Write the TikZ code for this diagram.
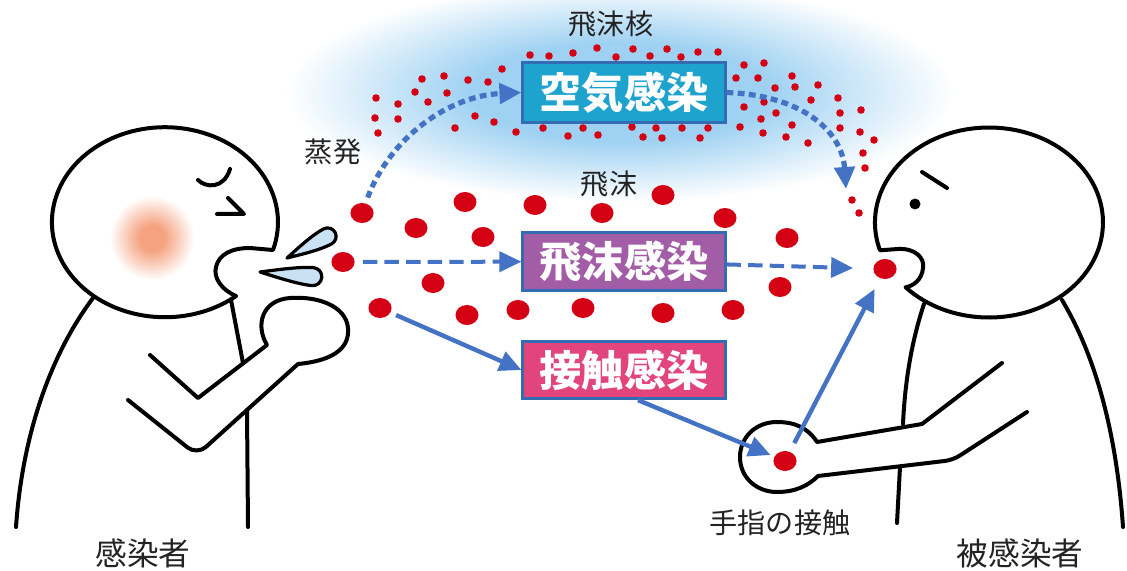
\documentclass[tikz,border=0pt]{standalone}
\usepackage{fontspec}
\setmainfont{Noto Sans CJK JP}
\usetikzlibrary{arrows.meta, positioning, shapes.geometric}

\definecolor{arrowblue}{RGB}{68,114,196}
\definecolor{dotred}{RGB}{212,0,20}
\definecolor{boxline}{RGB}{52,108,180}
\definecolor{airfill}{RGB}{30,162,206}
\definecolor{dropfill}{RGB}{163,93,166}
\definecolor{touchfill}{RGB}{226,68,124}
\definecolor{haze}{RGB}{158,209,242}
\definecolor{spray}{RGB}{200,226,243}
\definecolor{blush}{RGB}{245,162,128}
\definecolor{ink}{RGB}{35,35,35}

\pgfdeclareradialshading{hazeglow}{\pgfpoint{0bp}{0bp}}{color(0bp)=(haze); color(11bp)=(haze); color(25bp)=(white); color(50bp)=(white)}
\pgfdeclareradialshading{cheek}{\pgfpoint{0bp}{0bp}}{color(0bp)=(blush); color(7bp)=(blush); color(24bp)=(white); color(50bp)=(white)}

\begin{document}
\begin{tikzpicture}[x=0.025cm, y=-0.025cm, >={Triangle[length=5.5mm, width=5mm]},
		body_line/.style={line width=1mm, line cap=round, line join=round},
		infection/.style={draw=boxline, line width=0.75mm, text=white, inner sep=0pt, minimum width=5.05cm, minimum height=1.43cm, font=\fontsize{30}{36}\selectfont\bfseries},
		drop/.style={ellipse, fill=dotred, inner sep=0pt, minimum width=0.58cm, minimum height=0.5cm},
		note/.style={text=ink, font=\fontsize{20}{24}\selectfont},
		who/.style={text=ink, font=\fontsize{22.5}{27}\selectfont},
		route/.style={->, arrowblue, line width=1.1mm},
		air_route/.style={route, line width=1.3mm, dash pattern=on 1.7mm off 1.1mm},
		drop_route/.style={route, line width=1mm, dash pattern=on 3.6mm off 1.8mm}]
		\useasboundingbox (0,0) rectangle (1127,571);
		\shade[shading=hazeglow] (620,92) ellipse (335 and 110);

		\draw[body_line] (93,298) .. controls (48,358) and (22,440) .. (16,527);
		\draw[body_line] (231,300) -- (243,363);
		\draw[body_line] (247,410) -- (248,527);
		\draw[body_line] (150,355) -- (198,398) -- (267,345) .. controls (255,325) and (262,300) .. (290,298) .. controls (318,296) and (346,306) .. (348,328) .. controls (350,350) and (330,361) .. (298,364) [rounded corners=3mm] -- (197,455) -- (128,400);
		\filldraw[body_line, fill=white] (273,250) arc[start angle=17, end angle=-309, x radius=113, y radius=95] .. controls (222,290) and (213,278) .. (216,267) .. controls (219,254) and (232,248) .. (250,248) -- (273,250) -- cycle;
		\shade[shading=cheek] (152,238) circle (44);
		\draw[body_line] (198,180) .. controls (206,188) and (224,189) .. (230,169);
		\draw[body_line] (228,198) -- (244,214) -- (217,214);
		\begin{scope}[shift={(287,258)}, rotate=28]
			\filldraw[body_line, line width=0.8mm, fill=spray] (0,0) .. controls (16,-4) and (33,-8.5) .. (46,-8.5) arc[start angle=-90, end angle=90, radius=8.5] .. controls (33,8.5) and (16,4) .. (0,0) -- cycle;
		\end{scope}
		\begin{scope}[shift={(260,272)}, rotate=-5]
			\filldraw[body_line, line width=0.8mm, fill=spray] (0,0) .. controls (18,-4) and (40,-9) .. (53,-9) arc[start angle=-90, end angle=90, radius=9] .. controls (40,9) and (18,4) .. (0,0) -- cycle;
		\end{scope}

		\draw[body_line] (1062,300) .. controls (1098,360) and (1117,440) .. (1123,527);
		\draw[body_line] (924,304) .. controls (912,340) and (905,380) .. (903,424);
		\draw[body_line] (900,467) -- (897,523);
		\draw[body_line] (1002,363) -- (922,424) -- (817,442) .. controls (808,428) and (795,422) .. (777,422) .. controls (755,422) and (740,438) .. (740,457) .. controls (740,478) and (757,492) .. (777,492) .. controls (795,492) and (808,486) .. (818,476) [rounded corners=2mm] -- (953,460) -- (1027,412);
		\filldraw[body_line, fill=white] (905.6,287.3) arc[start angle=137, end angle=-197, x radius=114, y radius=95] -- (898,249) .. controls (915,248) and (925,258) .. (923,268) .. controls (922,280) and (913,286) .. (905.6,287.3) -- cycle;
		\draw[body_line] (922,172) -- (947,188);
		\fill (915,204) circle (5.5);

		\foreach \x/\y in {530/55, 549/56, 573/53, 597/48, 616/57, 633/49, 650/56, 667/49, 681/57, 698/52, 718/52,
				502/69, 422/79, 444/76, 468/80, 488/82, 415/92, 447/93, 376/98, 398/104, 428/102, 375/118, 398/119, 475/116, 494/122, 378/133, 455/128, 516/132,
				543/128, 568/136, 583/128, 598/135, 632/127, 643/137, 656/128, 662/138, 682/128, 700/138, 708/128, 740/127,
				744/65, 764/63, 736/78, 758/78, 792/76, 775/88, 795/87, 818/85, 744/107, 764/102, 776/113, 761/119, 792/125, 811/100, 838/98, 840/113, 861/110, 840/128, 860/132, 763/133, 786/137, 808/143, 874/140, 863/153, 865/168, 852/200, 859/213}
			\fill[dotred] (\x,\y) circle (3.8);
		\foreach \x/\y in {465/202, 535/205, 602/213, 663/195, 725/218, 416/228, 483/237, 787/238, 433/283, 780/287, 467/315, 518/310, 583/308, 663/313, 733/310}
			\fill[dotred] (\x,\y) ellipse (11.5 and 10);

		\node[infection, fill=airfill, minimum height=1.475cm] (air_box) at (624,92.5) {空気感染};
		\node[infection, fill=dropfill] (droplet_box) at (624,261.5) {飛沫感染};
		\node[infection, fill=touchfill] (contact_box) at (624,370) {接触感染};

		\node[drop] (evap_dot) at (362,213) {};
		\node[drop] (spray_dot) at (343,262) {};
		\node[drop] (contact_dot) at (380,308) {};
		\node[drop] (mouth_dot) at (885,269) {};
		\node[drop] (hand_dot) at (785,461) {};
		\coordinate (air_end) at (846,189);

		\draw[air_route, shorten <=1.5mm] (evap_dot.70) .. controls (390,138) and (448,96) .. (air_box.west);
		\draw[air_route] (air_box.east) .. controls (800,95) and (842,130) .. (air_end);
		\draw[drop_route, shorten <=2mm] (spray_dot) -- (droplet_box);
		\draw[drop_route, shorten >=5mm] (droplet_box) -- (mouth_dot);
		\draw[route, shorten <=1.5mm] (contact_dot) -- (contact_box.west);
		\draw[route, shorten >=1mm] (contact_box.-65) -- (hand_dot);
		\draw[route, shorten <=2.4mm, shorten >=3mm] (hand_dot) -- (mouth_dot);

		\node[note] (nuclei_label) at (611,24) {飛沫核};
		\node[note] (evap_label) at (333,152) {蒸発};
		\node[note] (droplet_label) at (609,184) {飛沫};
		\node[note] (touch_label) at (780,523) {手指の接触};
		\node[who] (source_label) at (143,553) {感染者};
		\node[who] (target_label) at (1020,553) {被感染者};
	\end{tikzpicture}
\end{document}
